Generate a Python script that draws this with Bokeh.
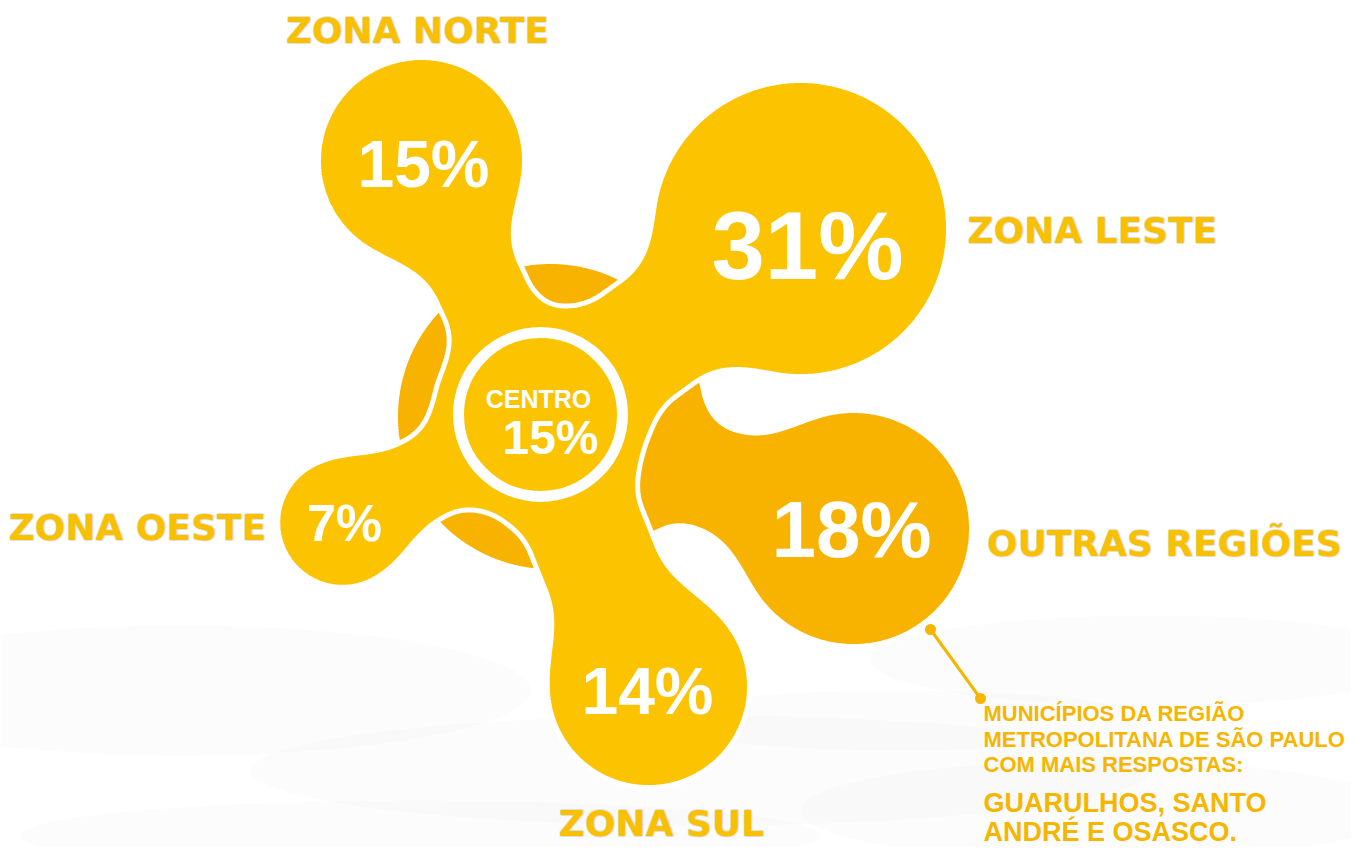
import numpy as np
import contourpy
from bokeh.plotting import figure
from bokeh.models import Range1d
from bokeh.embed import file_html
from bokeh.resources import INLINE
from bokeh.core.properties import value

# ---------------- data ----------------
regions = ["ZONA NORTE", "ZONA LESTE", "OUTRAS REGIÕES", "ZONA SUL", "ZONA OESTE", "CENTRO"]
shares = [15, 31, 18, 14, 7, 15]
note_lines = ["MUNICÍPIOS DA REGIÃO", "METROPOLITANA DE SÃO PAULO", "COM MAIS RESPOSTAS:"]
city_lines = ["GUARULHOS, SANTO", "ANDRÉ E OSASCO."]

# ---------------- layout (pixel space) ----------------
HUB = (540, 416, 108)            # centre body
DISK = (550, 416, 155)           # darker disk behind
# lobe: cx, cy, radius, neck half-width
LOBES = {
    "ZONA NORTE": (421, 160, 103, 46),
    "ZONA LESTE": (800, 228, 148, 63),
    "OUTRAS REGIÕES": (853, 528, 118, 53),
    "ZONA SUL": (648, 686, 101, 60),
    "ZONA OESTE": (342, 522, 62, 43),
}
VALUE_POS = {
    "ZONA NORTE": (423, 163, 66),
    "ZONA LESTE": (807, 245, 96),
    "OUTRAS REGIÕES": (851, 529, 80),
    "ZONA SUL": (647, 690, 66),
    "ZONA OESTE": (344, 522, 52),
}
LABEL_POS = {
    "ZONA NORTE": (417, 30),
    "ZONA LESTE": (1092, 230),
    "OUTRAS REGIÕES": (1164, 543),
    "ZONA SUL": (661, 823),
    "ZONA OESTE": (137, 527),
}

YELLOW = "#FCC300"
DARK = "#F8B300"
LABEL = "#F9C000"
NOTE = "#F6B500"

# ---------------- signed distance helpers ----------------
xs = np.arange(230, 1030, 1.5)
ys = np.arange(20, 820, 1.5)
X, Y = np.meshgrid(xs, ys)


def circ(cx, cy, r):
    return np.hypot(X - cx, Y - cy) - r


def capsule(ax, ay, bx, by, r):
    pax, pay = X - ax, Y - ay
    bax, bay = bx - ax, by - ay
    h = np.clip((pax * bax + pay * bay) / (bax * bax + bay * bay), 0, 1)
    return np.hypot(pax - bax * h, pay - bay * h) - r


def smin(a, b, k):
    h = np.clip(0.5 + 0.5 * (b - a) / k, 0, 1)
    return b * (1 - h) + a * h - k * h * (1 - h)


def loops(field):
    gen = contourpy.contour_generator(xs, ys, field)
    segs = [s for s in gen.lines(0.0) if len(s) > 10]
    return [s[:, 0] for s in segs], [s[:, 1] for s in segs]


# darker shape: disk + outras arm
ox, oy, orad, ow = LOBES["OUTRAS REGIÕES"]
dark = circ(*DISK)
dark = smin(dark, capsule(ox, oy, HUB[0], HUB[1], ow), 30)
dark = smin(dark, circ(ox, oy, orad), 40)

# yellow shape: hub + four arms
yel = circ(*HUB)
for name in ["ZONA NORTE", "ZONA LESTE", "ZONA SUL", "ZONA OESTE"]:
    cx, cy, r, w = LOBES[name]
    yel = smin(yel, capsule(cx, cy, HUB[0], HUB[1], w), 30)
    yel = smin(yel, circ(cx, cy, r), 40)

# ---------------- figure ----------------
p = figure(width=1351, height=846, output_backend="svg", toolbar_location=None,
           x_range=Range1d(0, 1351), y_range=Range1d(846, 0), min_border=0)
p.axis.visible = False
p.grid.visible = False
p.outline_line_color = None
p.background_fill_color = "white"
p.border_fill_color = "white"

# faint watery background at the bottom
p.ellipse(x=[180, 700, 1150, 420, 1100, 900], y=[690, 770, 660, 835, 810, 720],
          width=[700, 900, 560, 800, 600, 500], height=[130, 110, 90, 70, 100, 60],
          fill_color="#EEEEEE", fill_alpha=0.16, line_color=None)

dx, dy = loops(dark)
p.patches(xs=dx, ys=dy, fill_color=DARK, line_color="white", line_width=5)
yx, yy = loops(yel)
p.patches(xs=yx, ys=yy, fill_color=YELLOW, line_color="white", line_width=5)

# centre ring
p.circle(x=[540], y=[414], radius=82, fill_color=None, line_color="white", line_width=11)

# values in lobes
share_of = dict(zip(regions, shares))
for name, (vx, vy, fs) in VALUE_POS.items():
    p.text(x=[vx], y=[vy], text=[f"{share_of[name]}%"], text_font=value("Liberation Sans"),
           text_font_style="bold", text_font_size=f"{fs}px", text_color="white",
           text_align="center", text_baseline="middle")
p.text(x=[538], y=[398], text=[regions[5]], text_font=value("Liberation Sans"),
       text_font_style="bold", text_font_size="25px", text_color="white",
       text_align="center", text_baseline="middle")
p.text(x=[550], y=[437], text=[f"{share_of['CENTRO']}%"], text_font=value("Liberation Sans"),
       text_font_style="bold", text_font_size="48px", text_color="white",
       text_align="center", text_baseline="middle")

# region labels with subtle grey halo
for name, (lx, ly) in LABEL_POS.items():
    for ddx, ddy in [(-1, -1), (1, -1), (-1, 1), (1, 1)]:
        p.text(x=[lx + ddx], y=[ly + ddy], text=[name], text_font=value("DejaVu Sans"),
               text_font_style="bold", text_font_size="36px", text_color="#9a9a9a",
               text_alpha=0.16, text_align="center", text_baseline="middle")
    p.text(x=[lx], y=[ly], text=[name], text_font=value("DejaVu Sans"),
           text_font_style="bold", text_font_size="36px", text_color=LABEL,
           text_align="center", text_baseline="middle")

# leader line
p.line(x=[930, 980], y=[629, 698], line_color=NOTE, line_width=3)
p.scatter(x=[930, 980], y=[629, 698], size=11, fill_color=NOTE, line_color=None)

# note text
p.text(x=[983] * 3, y=[713, 739, 764], text=note_lines, text_font=value("Liberation Sans"),
       text_font_style="bold", text_font_size="22px", text_color=NOTE,
       text_align="left", text_baseline="middle")
p.text(x=[983] * 2, y=[802, 831], text=city_lines, text_font=value("Liberation Sans"),
       text_font_style="bold", text_font_size="27px", text_color=NOTE,
       text_align="left", text_baseline="middle")

open("out.html", "w").write(file_html(p, INLINE))
